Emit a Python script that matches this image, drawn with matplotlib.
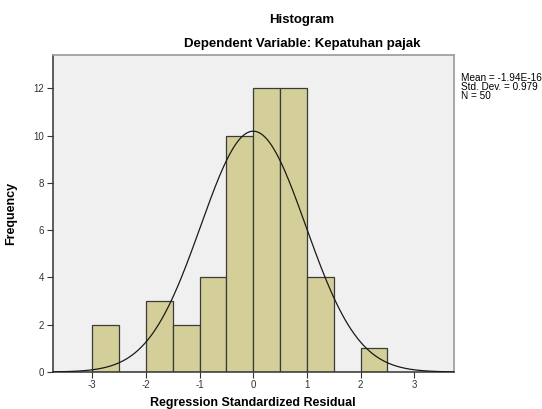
import matplotlib
matplotlib.use("Agg")
import matplotlib.pyplot as plt
import numpy as np

plt.rcParams["font.family"] = ["Liberation Sans", "DejaVu Sans"]
plt.rcParams["axes.unicode_minus"] = False

bin_edges = [-3.0, -2.5, -2.0, -1.5, -1.0, -0.5, 0.0, 0.5, 1.0, 1.5, 2.0, 2.5]
counts = [2, 0, 3, 2, 4, 10, 12, 12, 4, 0, 1]
mean = -1.94e-16
std_dev = 0.979
n_obs = 50
x_ticks = [-3, -2, -1, 0, 1, 2, 3]
y_ticks = [0, 2, 4, 6, 8, 10, 12]

W, H = 542, 409
fig = plt.figure(figsize=(W / 100, H / 100), dpi=100)
ax = fig.add_axes([52.5 / W, 37 / H, 401.5 / W, 317 / H])
ax.set_facecolor("#f0f0f0")

lefts = np.array(bin_edges[:-1])
widths = np.diff(bin_edges)
ax.bar(lefts, counts, width=widths, align="edge", color="#d4cf99",
       edgecolor="#3a3a3a", linewidth=0.9, zorder=2)

# normal curve scaled to counts
xs = np.linspace(-3.74, 3.74, 400)
bw = widths[0]
pdf = np.exp(-0.5 * ((xs - mean) / std_dev) ** 2) / (std_dev * np.sqrt(2 * np.pi))
ax.plot(xs, n_obs * bw * pdf, color="#1a1a1a", linewidth=0.9, zorder=3)

ax.set_xlim(-3.74, 3.74)
ax.set_ylim(0, 13.41)
ax.set_xticks(x_ticks)
ax.set_yticks(y_ticks)
ax.tick_params(direction="out", length=4, width=0.8, labelsize=7, pad=2,
               colors="#333333")

for side in ["left", "bottom"]:
    ax.spines[side].set_color("#333333")
    ax.spines[side].set_linewidth(1.1)
for side in ["top", "right"]:
    ax.spines[side].set_color("#9a9a9a")
    ax.spines[side].set_linewidth(1.2)

ax.set_xlabel("Regression Standardized Residual", fontsize=9, fontweight="bold", labelpad=5)
ax.set_ylabel("Frequency", fontsize=9, fontweight="bold", labelpad=12)

fig.text(302 / W, 1 - 20 / H, "Histogram", ha="center", va="center",
         fontsize=9.5, fontweight="bold")
fig.text(302 / W, 1 - 44 / H, "Dependent Variable: Kepatuhan pajak", ha="center",
         va="center", fontsize=9.5, fontweight="bold")

stats_txt = f"Mean = {-1.94}E-16\nStd. Dev. = {std_dev}\nN = {n_obs}"
fig.text(461 / W, 1 - 73 / H, stats_txt, ha="left", va="top", fontsize=7.2,
         linespacing=0.9)

fig.savefig("out.png", dpi=100)
